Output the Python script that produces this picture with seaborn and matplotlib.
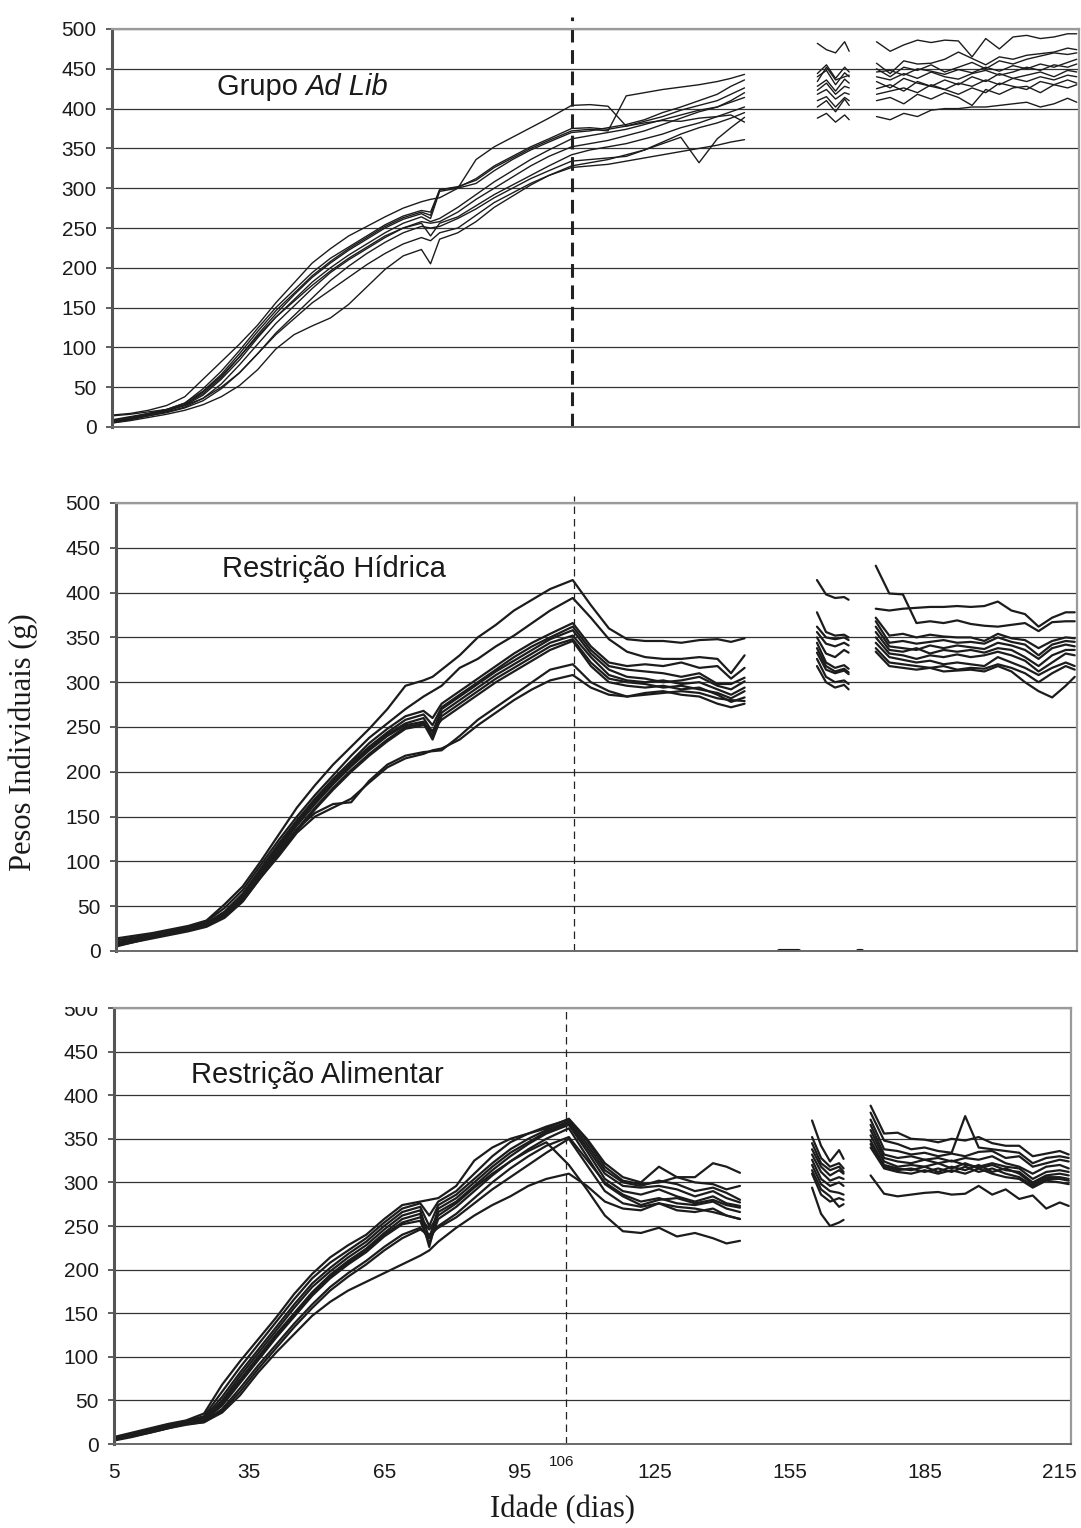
import pandas as pd
import numpy as np
import matplotlib
matplotlib.use('Agg')
import matplotlib.pyplot as plt
import matplotlib.transforms as mtransforms
from matplotlib.patches import Rectangle
import seaborn as sns

sns.set_style("white")
plt.rcParams['font.family'] = ['Liberation Sans', 'DejaVu Sans']

# ---- Data -------------------------------------------------------------
# measurement days for the three recorded periods
days_a = [5, 9, 13, 17, 21, 25, 29, 33, 37, 41, 45, 49, 53, 57, 61, 65, 69, 73, 75, 77,
          81, 85, 89, 93, 97, 101, 106, 110, 114, 118, 122, 126, 130, 134, 138, 141, 144]
days_b = [160, 162, 164, 166, 167]
days_c = [173, 176, 179, 182, 185, 188, 191, 194, 197, 200, 203, 206, 209, 212, 215, 217]

# Grupo Ad Lib
adlib_a = [
    [15, 17, 21, 27, 38, 60, 82, 104, 128, 156, 181, 206, 224, 240, 252, 264, 275, 283, 286, 288, 300, 336, 352, 364, 376, 388, 404, 405, 403, 378, 382, 385, 384, 388, 390, 392, 383],
    [8, 12, 17, 22, 30, 45, 66, 92, 120, 146, 168, 190, 208, 224, 238, 252, 263, 270, 266, 298, 302, 310, 326, 338, 350, 360, 372, 374, 372, 416, 420, 424, 427, 430, 434, 438, 443],
    [7, 11, 16, 21, 28, 42, 62, 88, 116, 142, 166, 188, 206, 222, 236, 250, 261, 268, 262, 296, 300, 306, 322, 336, 348, 358, 370, 372, 376, 380, 386, 395, 402, 410, 418, 428, 436],
    [9, 13, 17, 22, 30, 48, 70, 96, 124, 150, 172, 194, 212, 226, 240, 254, 265, 272, 270, 298, 301, 312, 328, 340, 352, 362, 375, 376, 374, 378, 384, 390, 398, 404, 410, 418, 426],
    [6, 10, 15, 20, 27, 40, 60, 84, 112, 138, 160, 182, 200, 216, 230, 244, 256, 264, 258, 262, 276, 292, 308, 322, 336, 348, 362, 366, 370, 374, 380, 386, 392, 398, 402, 410, 420],
    [5, 9, 14, 19, 25, 36, 54, 78, 104, 130, 152, 174, 194, 210, 224, 238, 250, 258, 256, 258, 270, 286, 300, 314, 328, 340, 352, 356, 360, 366, 372, 380, 388, 396, 402, 408, 414],
    [8, 12, 16, 21, 28, 44, 64, 88, 114, 138, 158, 178, 196, 212, 226, 240, 250, 256, 240, 256, 264, 278, 292, 304, 316, 328, 342, 348, 352, 356, 362, 368, 376, 382, 390, 396, 402],
    [6, 10, 14, 18, 24, 33, 48, 68, 92, 118, 140, 162, 184, 202, 218, 232, 244, 252, 250, 252, 262, 274, 288, 300, 312, 322, 334, 336, 338, 340, 348, 358, 368, 376, 382, 388, 395],
    [5, 8, 12, 16, 21, 28, 38, 52, 72, 98, 116, 127, 137, 154, 176, 198, 215, 223, 205, 236, 244, 258, 276, 290, 304, 316, 328, 332, 336, 342, 348, 356, 364, 332, 362, 376, 389],
    [14, 16, 19, 22, 27, 36, 50, 68, 92, 116, 136, 156, 172, 188, 204, 218, 230, 238, 234, 244, 250, 266, 282, 294, 306, 316, 326, 328, 330, 334, 338, 342, 346, 350, 354, 358, 361],
]
adlib_b = [
    [482, 474, 470, 484, 472],
    [444, 455, 438, 452, 446],
    [440, 448, 430, 445, 440],
    [434, 452, 436, 440, 442],
    [428, 436, 422, 437, 432],
    [423, 432, 418, 428, 426],
    [418, 424, 412, 420, 418],
    [410, 415, 402, 414, 410],
    [402, 410, 396, 412, 404],
    [388, 394, 383, 392, 386],
]
adlib_c = [
    [484, 472, 480, 486, 483, 486, 485, 465, 488, 475, 490, 492, 488, 490, 494, 494],
    [457, 444, 460, 456, 457, 462, 471, 463, 455, 465, 462, 467, 469, 471, 476, 474],
    [450, 440, 452, 448, 455, 446, 452, 458, 450, 460, 456, 462, 466, 470, 468, 470],
    [446, 448, 442, 450, 447, 443, 449, 445, 452, 447, 454, 450, 456, 452, 458, 462],
    [440, 436, 444, 438, 446, 440, 437, 444, 448, 442, 446, 452, 448, 455, 452, 456],
    [434, 426, 438, 432, 428, 436, 430, 440, 434, 444, 438, 442, 446, 440, 448, 446],
    [425, 430, 422, 434, 428, 424, 432, 428, 436, 430, 438, 434, 440, 436, 442, 440],
    [418, 422, 426, 420, 430, 424, 418, 426, 420, 432, 428, 424, 434, 430, 436, 432],
    [410, 414, 406, 418, 412, 420, 414, 404, 424, 418, 426, 428, 420, 430, 426, 430],
    [390, 386, 394, 390, 398, 400, 400, 402, 402, 404, 406, 408, 402, 406, 413, 408],
]

# Restricao Hidrica
hidrica_a = [
    [14, 17, 20, 24, 28, 34, 52, 72, 100, 130, 160, 185, 208, 228, 248, 270, 296, 302, 306, 314, 330, 350, 364, 380, 392, 404, 414, 386, 360, 348, 346, 346, 344, 347, 348, 345, 349],
    [12, 15, 19, 23, 27, 33, 48, 68, 96, 124, 150, 174, 196, 218, 238, 254, 270, 284, 290, 296, 316, 326, 340, 352, 366, 380, 394, 372, 348, 334, 328, 326, 326, 328, 326, 310, 330],
    [9, 13, 17, 21, 26, 31, 44, 64, 92, 120, 146, 170, 192, 212, 232, 248, 262, 268, 260, 276, 290, 304, 318, 332, 344, 354, 366, 340, 322, 318, 320, 318, 322, 316, 318, 304, 316],
    [8, 12, 16, 20, 25, 30, 42, 62, 90, 118, 144, 168, 190, 210, 228, 244, 258, 264, 252, 272, 286, 300, 314, 328, 340, 350, 362, 336, 318, 314, 312, 310, 306, 310, 298, 298, 305],
    [7, 11, 16, 20, 24, 29, 40, 60, 88, 116, 142, 166, 188, 208, 226, 242, 254, 260, 244, 270, 284, 298, 312, 324, 336, 348, 358, 332, 314, 306, 304, 300, 302, 306, 296, 292, 301],
    [6, 10, 15, 19, 24, 28, 39, 58, 86, 114, 140, 164, 186, 206, 224, 240, 252, 256, 240, 266, 280, 294, 308, 320, 332, 344, 352, 328, 308, 302, 300, 302, 298, 300, 292, 286, 294],
    [7, 11, 15, 19, 23, 28, 38, 56, 84, 110, 136, 160, 182, 202, 220, 236, 250, 254, 236, 262, 276, 290, 304, 316, 328, 340, 348, 322, 304, 300, 298, 294, 296, 292, 288, 282, 290],
    [5, 10, 14, 18, 22, 27, 37, 55, 82, 108, 134, 158, 180, 200, 218, 234, 248, 252, 246, 258, 272, 286, 300, 312, 324, 336, 346, 318, 300, 296, 294, 296, 292, 294, 286, 278, 283],
    [10, 13, 17, 21, 25, 30, 40, 58, 86, 112, 136, 154, 164, 166, 190, 208, 218, 222, 223, 224, 240, 258, 272, 286, 300, 314, 320, 300, 290, 284, 286, 288, 290, 288, 282, 280, 279],
    [8, 12, 16, 20, 24, 29, 38, 56, 82, 106, 132, 150, 160, 170, 188, 205, 215, 220, 224, 226, 236, 252, 266, 280, 292, 302, 308, 294, 286, 284, 288, 290, 286, 284, 276, 272, 276],
]
hidrica_b = [
    [414, 398, 394, 395, 392],
    [378, 356, 352, 353, 350],
    [362, 350, 348, 350, 347],
    [356, 343, 340, 344, 341],
    [350, 332, 328, 336, 333],
    [344, 322, 316, 319, 315],
    [338, 318, 312, 315, 311],
    [333, 314, 310, 313, 309],
    [326, 306, 300, 302, 298],
    [318, 300, 294, 297, 292],
]
hidrica_c = [
    [430, 399, 398, 366, 368, 366, 369, 365, 363, 362, 364, 366, 357, 367, 368, 368],
    [382, 380, 382, 383, 384, 384, 385, 384, 385, 390, 380, 376, 362, 372, 378, 378],
    [372, 352, 354, 350, 353, 351, 350, 350, 346, 354, 349, 347, 338, 346, 350, 349],
    [368, 344, 346, 343, 345, 347, 344, 345, 343, 350, 345, 342, 330, 342, 346, 345],
    [362, 340, 338, 336, 341, 338, 341, 339, 337, 344, 341, 336, 326, 338, 342, 340],
    [356, 336, 334, 338, 332, 336, 334, 336, 333, 338, 336, 328, 318, 330, 336, 336],
    [350, 332, 330, 326, 330, 328, 331, 328, 330, 334, 330, 324, 312, 322, 332, 330],
    [344, 328, 325, 322, 324, 320, 322, 320, 318, 328, 322, 316, 308, 316, 322, 318],
    [338, 322, 320, 318, 316, 318, 314, 316, 315, 320, 316, 310, 300, 310, 318, 314],
    [334, 318, 316, 314, 316, 312, 313, 314, 312, 318, 312, 300, 290, 283, 296, 306],
]
# stray zero readings at the foot of the Restricao Hidrica panel
hidrica_zero_days = [[151.5, 156], [169, 170]]
hidrica_zero_vals = [[0, 0], [0, 0]]

# Restricao Alimentar
alimentar_a = [
    [8, 13, 18, 23, 27, 35, 68, 95, 120, 145, 172, 195, 214, 228, 240, 258, 274, 278, 280, 282, 296, 325, 340, 350, 356, 362, 373, 350, 322, 306, 300, 318, 306, 306, 322, 318, 311],
    [7, 12, 17, 22, 26, 32, 60, 88, 114, 140, 166, 190, 208, 222, 236, 254, 270, 276, 262, 278, 290, 310, 330, 346, 356, 364, 372, 348, 318, 302, 298, 300, 306, 300, 298, 292, 296],
    [6, 11, 16, 21, 25, 30, 54, 82, 108, 134, 160, 184, 202, 218, 232, 250, 266, 272, 250, 274, 286, 304, 322, 338, 350, 360, 370, 344, 314, 300, 296, 302, 298, 290, 294, 288, 280],
    [5, 10, 15, 20, 24, 28, 50, 78, 104, 130, 156, 180, 198, 214, 228, 246, 262, 268, 236, 270, 282, 300, 318, 334, 346, 358, 368, 340, 310, 296, 294, 296, 292, 284, 290, 282, 277],
    [6, 10, 15, 20, 25, 29, 48, 74, 100, 126, 150, 174, 194, 210, 224, 242, 258, 264, 226, 266, 278, 296, 314, 330, 344, 356, 366, 336, 304, 290, 286, 292, 284, 278, 284, 276, 273],
    [5, 9, 14, 19, 24, 27, 44, 70, 96, 122, 146, 170, 190, 206, 220, 238, 252, 256, 230, 258, 272, 290, 308, 324, 338, 350, 362, 330, 298, 284, 274, 280, 282, 276, 280, 274, 271],
    [4, 8, 13, 18, 23, 26, 40, 64, 90, 114, 138, 160, 180, 196, 210, 226, 240, 248, 236, 250, 264, 282, 300, 316, 330, 342, 352, 326, 300, 286, 278, 282, 276, 274, 278, 270, 266],
    [5, 9, 13, 18, 22, 25, 38, 60, 86, 110, 134, 156, 176, 192, 206, 222, 236, 246, 240, 248, 260, 276, 292, 306, 320, 334, 350, 320, 290, 276, 272, 276, 268, 266, 270, 262, 258],
    [6, 10, 14, 19, 23, 25, 36, 56, 82, 105, 126, 147, 163, 176, 186, 196, 206, 216, 222, 232, 248, 262, 274, 284, 296, 304, 310, 296, 278, 270, 268, 276, 272, 270, 266, 262, 258],
    [7, 11, 15, 20, 24, 28, 46, 72, 98, 124, 148, 172, 192, 208, 222, 240, 254, 260, 246, 262, 276, 294, 310, 324, 336, 346, 320, 292, 262, 244, 242, 248, 238, 242, 236, 230, 233],
]
alimentar_b = [
    [371, 342, 324, 337, 327],
    [352, 328, 318, 322, 316],
    [345, 322, 314, 318, 312],
    [338, 318, 308, 314, 310],
    [332, 312, 302, 306, 304],
    [326, 304, 296, 300, 296],
    [320, 298, 290, 288, 286],
    [314, 292, 284, 272, 275],
    [294, 264, 250, 254, 257],
    [310, 286, 278, 282, 280],
]
alimentar_c = [
    [388, 356, 357, 350, 349, 346, 350, 348, 352, 345, 342, 342, 330, 333, 336, 332],
    [380, 348, 344, 338, 340, 336, 334, 376, 340, 338, 336, 334, 322, 328, 330, 328],
    [372, 338, 336, 332, 334, 330, 333, 330, 335, 336, 328, 330, 318, 322, 326, 324],
    [366, 332, 328, 330, 326, 328, 324, 328, 326, 330, 322, 318, 310, 318, 320, 316],
    [360, 328, 324, 322, 326, 322, 325, 320, 318, 322, 318, 316, 304, 312, 314, 312],
    [354, 324, 318, 320, 318, 322, 316, 322, 316, 320, 314, 312, 300, 308, 310, 308],
    [348, 320, 316, 314, 318, 312, 318, 314, 320, 312, 316, 310, 298, 306, 306, 304],
    [344, 318, 314, 316, 312, 316, 312, 318, 312, 316, 310, 306, 296, 304, 304, 302],
    [340, 316, 312, 310, 314, 310, 314, 310, 316, 310, 306, 304, 294, 302, 300, 298],
    [308, 287, 284, 286, 288, 289, 286, 287, 296, 286, 292, 281, 285, 270, 277, 273],
]

panel_titles = [("Grupo ", "Ad Lib"), ("Restrição Hídrica", None), ("Restrição Alimentar", None)]
x_ticks = [5, 35, 65, 95, 125, 155, 185, 215]
y_ticks = list(range(0, 501, 50))
cut_day = 106


def to_long(segments):
    rows = []
    for tag, days, curves in segments:
        for i, vals in enumerate(curves):
            for d, v in zip(days, vals):
                rows.append((d, v, f"{tag}{i}"))
    return pd.DataFrame(rows, columns=["dia", "peso", "unidade"])


frames = [
    to_long([("a", days_a, adlib_a), ("b", days_b, adlib_b), ("c", days_c, adlib_c)]),
    to_long([("a", days_a, hidrica_a), ("b", days_b, hidrica_b), ("c", days_c, hidrica_c)]),
    to_long([("a", days_a, alimentar_a), ("b", days_b, alimentar_b), ("c", days_c, alimentar_c)]),
]
zero_df = to_long([(f"z{j}_", d, [v]) for j, (d, v) in
                   enumerate(zip(hidrica_zero_days, hidrica_zero_vals))])

# ---- Figure -------------------------------------------------------------
W, H = 1081, 1528
fig = plt.figure(figsize=(W / 100, H / 100), dpi=100)

# axes boxes in pixels: left, right, top(500), bottom(0)
boxes = [(112, 1079, 29, 427), (116, 1077, 503, 951), (114, 1071, 1008, 1444)]
line_w = [1.0, 1.6, 1.6]
title_pos = [(28, 427), (28.5, 426), (22, 423)]
cut_x = [106, 106.3, 105.3]

axes = []
for k, (l, r, t, b) in enumerate(boxes):
    ax = fig.add_axes([l / W, 1 - b / H, (r - l) / W, (b - t) / H])
    axes.append(ax)

    sns.lineplot(data=frames[k], x="dia", y="peso", units="unidade", estimator=None,
                 color="#1c1c1c", linewidth=line_w[k], sort=False, legend=False, ax=ax)
    if k == 1:
        sns.lineplot(data=zero_df, x="dia", y="peso", units="unidade", estimator=None,
                     color="#1c1c1c", linewidth=3, sort=False, legend=False, ax=ax)

    ax.set_xlim(5, 217.5)
    ax.set_ylim(0, 500)
    ax.set_yticks(y_ticks)
    ax.yaxis.grid(True, color="#333333", linewidth=0.9)
    ax.xaxis.grid(False)
    ax.set_axisbelow(True)
    ax.set_xlabel("")
    ax.set_ylabel("")
    ax.tick_params(axis="y", which="both", left=True, length=4, width=1.2,
                   color="#444444", pad=7, labelsize=15, labelcolor="#1a1a1a")

    for side in ["top", "right"]:
        ax.spines[side].set_color("#9a9a9a")
        ax.spines[side].set_linewidth(1.6)
    ax.spines["bottom"].set_color("#6a6a6a")
    ax.spines["bottom"].set_linewidth(1.4)
    ax.spines["left"].set_color("#555555")
    ax.spines["left"].set_linewidth(2.2)

    # vertical marker at day 106
    cx = cut_x[k]
    if k == 0:
        ax.plot([cx, cx], [0, 515], color="#222222", linewidth=2.2,
                dashes=(4.5, 2.5), clip_on=False)
    elif k == 1:
        ax.plot([cx, cx], [0, 508], color="#222222", linewidth=0.9,
                dashes=(6, 4), clip_on=False)
    else:
        ax.plot([cx, cx], [0, 500], color="#222222", linewidth=0.9,
                dashes=(6, 4))

    main, italic = panel_titles[k]
    tx, ty = title_pos[k]
    t1 = ax.text(tx, ty, main, fontsize=21, va="center", ha="left", color="#1a1a1a")
    if italic:
        fig.canvas.draw()
        bb = t1.get_window_extent()
        x_end = ax.transData.inverted().transform((bb.x1, bb.y0))[0]
        ax.text(x_end, ty, italic, fontsize=21, style="italic", va="center",
                ha="left", color="#1a1a1a")

    if k < 2:
        ax.set_xticks([])
    else:
        ax.set_xticks(x_ticks)
        ax.tick_params(axis="x", length=0, pad=14, labelsize=15, labelcolor="#1a1a1a")
        trans = mtransforms.blended_transform_factory(ax.transData, ax.transAxes)
        ax.text(104.3, -0.042, str(cut_day), fontsize=11, ha="center", va="center",
                transform=trans, color="#1a1a1a")

# the top of the lower panel's "500" label is cropped in the source
fig.patches.append(Rectangle((50 / W, 1 - 1007 / H), 56 / W, 20 / H, facecolor="white",
                             edgecolor="none", transform=fig.transFigure, zorder=10))

fig.text(23 / W, 1 - 742 / H, "Pesos Individuais (g)", rotation=90, va="center",
         ha="center", fontsize=22, family=["Liberation Serif", "DejaVu Serif"], color="#1a1a1a")
fig.text(562 / W, 1 - 1510 / H, "Idade (dias)", va="center", ha="center",
         fontsize=22, family=["Liberation Serif", "DejaVu Serif"], color="#1a1a1a")

fig.savefig("out.png", dpi=100, facecolor="white")
